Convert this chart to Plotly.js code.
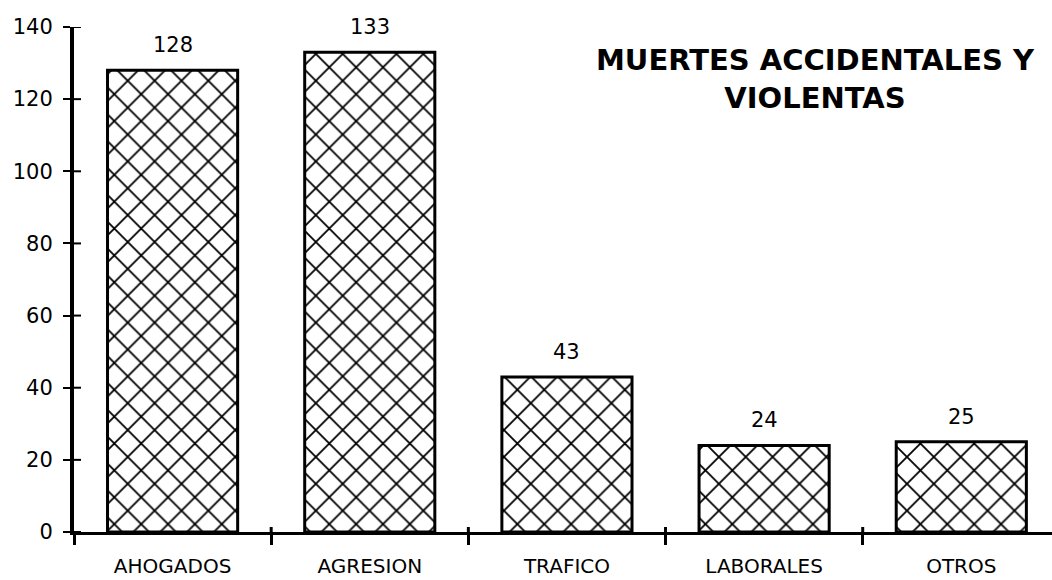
<!DOCTYPE html>
<html>
<head>
<meta charset="utf-8">
<script src="https://cdn.plot.ly/plotly-3.0.1.min.js"></script>
<style>html,body{margin:0;padding:0;background:#fff;}#chart{width:1052px;height:580px;}</style>
</head>
<body>
<div id="chart"></div>
<script>
const categories = ['AHOGADOS', 'AGRESION', 'TRAFICO', 'LABORALES', 'OTROS'];
const values = [128, 133, 43, 24, 25];
const valueLabels = ['128', '133', '43', '24', '25'];
const yTicks = [0, 20, 40, 60, 80, 100, 120, 140];
const titleText = 'MUERTES ACCIDENTALES Y<br>VIOLENTAS';

const FONT = 'DejaVu Sans, Liberation Sans, sans-serif';

const bars = {
  type: 'bar',
  x: categories,
  y: values,
  width: 0.66,
  marker: {
    color: '#ffffff',
    line: {color: '#000000', width: 3},
    pattern: {shape: 'x', size: 19, solidity: 0.18, fgcolor: '#000000', fgopacity: 1, bgcolor: '#ffffff', fillmode: 'replace'}
  },
  hoverinfo: 'x+y',
  showlegend: false
};

const annotations = categories.map((c, i) => ({
  x: c, y: values[i], xref: 'x', yref: 'y',
  text: valueLabels[i], showarrow: false,
  yanchor: 'bottom', yshift: 11,
  font: {family: FONT, size: 21, color: '#000'}
}));

// crossing tick marks: inner halves of y ticks and category boundary ticks
const shapes = [];
yTicks.forEach(v => shapes.push({
  type: 'line', xref: 'paper', yref: 'y', xsizemode: 'pixel', xanchor: 0,
  x0: 0, x1: 7, y0: v, y1: v, line: {color: '#000', width: 2}
}));
categories.slice(1).forEach((c, i) => shapes.push({
  type: 'line', xref: 'x', yref: 'y', ysizemode: 'pixel', yanchor: 0,
  x0: i + 0.5, x1: i + 0.5, y0: 0, y1: 5, line: {color: '#000', width: 3}
}));

const xr = [-0.5, 4.46];
const yr = [0, 140];

const layout = {
  width: 1052, height: 580,
  margin: {l: 74, r: 0, t: 27, b: 48, pad: 0},
  paper_bgcolor: '#ffffff',
  plot_bgcolor: '#ffffff',
  showlegend: false,
  title: {
    text: titleText,
    x: 815 / 1052, xanchor: 'center', xref: 'container',
    y: 1 - 70 / 580, yanchor: 'top', yref: 'container',
    font: {family: FONT, size: 29, color: '#000', weight: 'bold'}
  },
  xaxis: {
    type: 'category',
    range: xr,
    showline: true, linecolor: '#000', linewidth: 3,
    showgrid: false, zeroline: false,
    tickson: 'boundaries',
    ticks: 'outside', ticklen: 10, tickwidth: 3, tickcolor: '#000',
    ticklabelstandoff: 14,
    tickfont: {family: FONT, size: 20, color: '#000'},
    fixedrange: true
  },
  yaxis: {
    range: yr,
    tickvals: yTicks,
    showline: true, linecolor: '#000', linewidth: 4,
    showgrid: false, zeroline: false,
    ticks: 'outside', ticklen: 7, tickwidth: 2, tickcolor: '#000',
    ticklabelstandoff: 6,
    tickfont: {family: FONT, size: 21, color: '#000'},
    fixedrange: true
  },
  shapes: shapes,
  annotations: annotations
};

Plotly.newPlot('chart', [bars], layout, {displayModeBar: false, staticPlot: true});
</script>
</body>
</html>
